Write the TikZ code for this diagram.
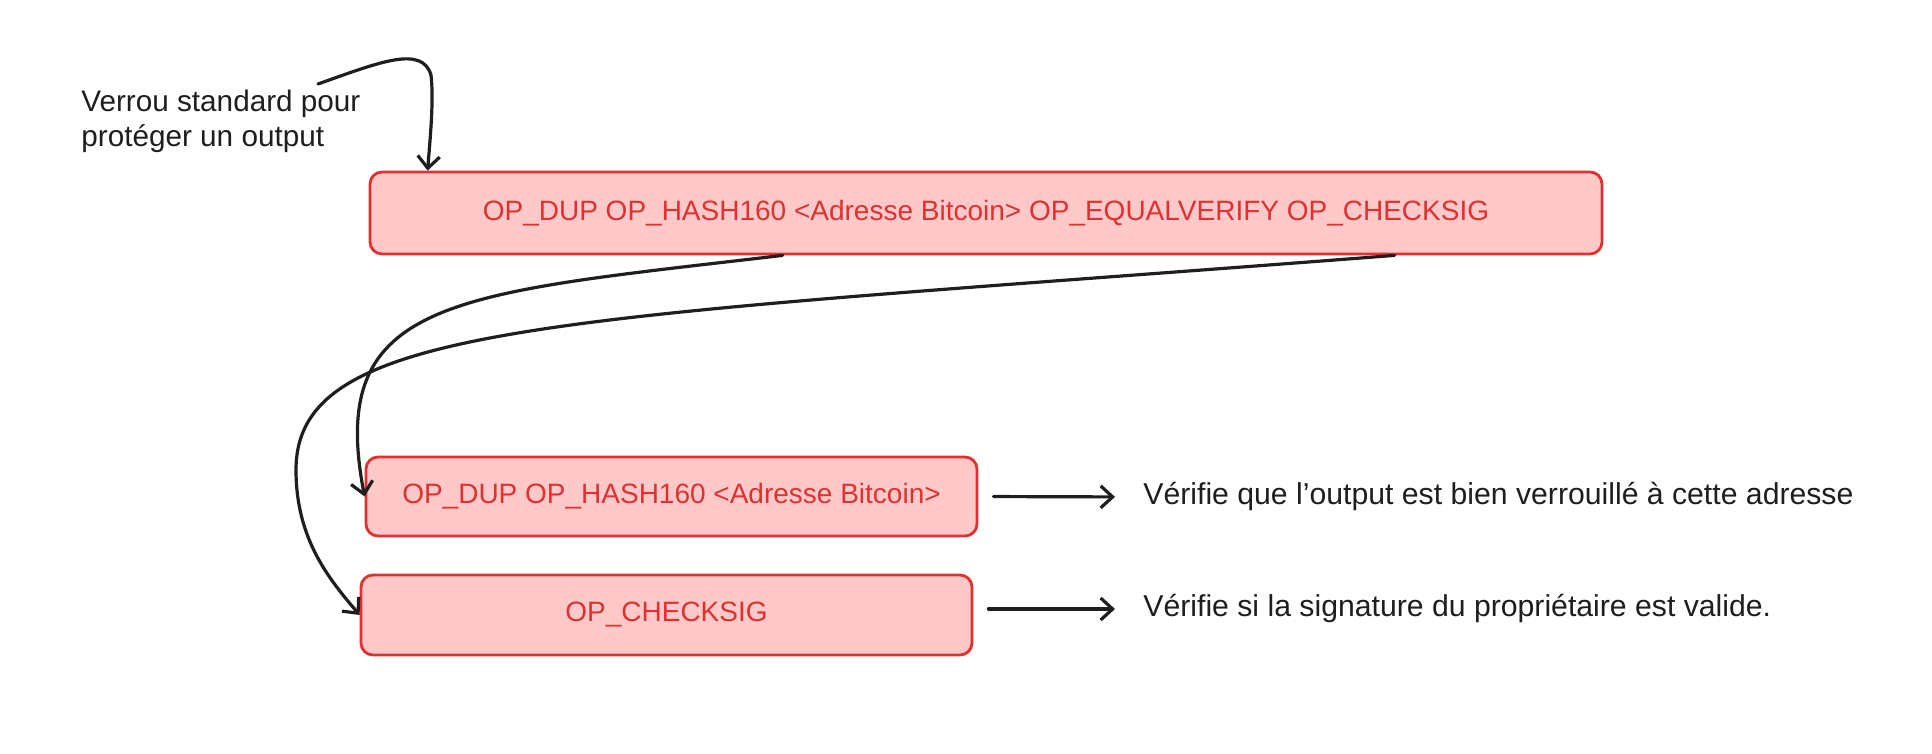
\documentclass[tikz,border=0pt]{standalone}
\usepackage{fontspec}
\setmainfont{Liberation Sans}
\usetikzlibrary{arrows.meta,calc}
\definecolor{boxfill}{HTML}{FFC9C9}
\definecolor{boxline}{HTML}{E03131}
\definecolor{ink}{HTML}{1E1E1E}
\begin{document}
\begin{tikzpicture}[x=0.5pt,y=-0.5pt,
  opbox/.style={draw=boxline, fill=boxfill, line width=1.4pt, rounded corners=6pt,
    text=boxline, font=\fontsize{14}{17}\selectfont, inner sep=0pt},
  note/.style={text=ink, font=\fontsize{15.1}{17.25}\selectfont, inner sep=0pt, align=left},
  link/.style={draw=ink, line width=1.6pt, line cap=round,
    -{Straight Barb[length=6pt,width=11pt,line width=1.6pt]}}]
\useasboundingbox (0,0) rectangle (1932,754);

\node[opbox, minimum width=616pt, minimum height=41pt] (top) at (986,213)
  {OP\_DUP OP\_HASH160 <Adresse Bitcoin> OP\_EQUALVERIFY OP\_CHECKSIG};
\node[opbox, minimum width=305.5pt, minimum height=39.5pt] (dup) at (671.5,496.5)
  {OP\_DUP OP\_HASH160 <Adresse Bitcoin>};
\node[opbox, minimum width=305.5pt, minimum height=40pt] (chk) at (666.5,615)
  {OP\_CHECKSIG};

\node[note, anchor=west] (d1) at (1143,497)
  {Vérifie que l’output est bien verrouillé à cette adresse};
\node[note, anchor=west] (d2) at (1143,609)
  {Vérifie si la signature du propriétaire est valide.};

\node[note, font=\fontsize{14.85}{17.25}\selectfont, anchor=north west] (ann) at (81,90)
  {Verrou standard pour\\protéger un output};
\coordinate (annstart) at (318,84);

\draw[link] (annstart) .. controls (380,62) and (422,45) .. (431,75)
  .. controls (434,100) and (430,140) .. ($(top.north west)+(59,0)$);

\draw[link] ($(top.south west)+(414,0)$) .. controls (454,294) and (326,297) .. (dup.west);
\draw[link] ($(top.south west)+(1026,0)$) .. controls (560,320) and (296,320) .. (296,470)
  .. controls (296,540) and (330,580) .. (chk.west);

\draw[link, shorten <=7.5pt, shorten >=14pt] (dup.east) -- (d1.west);
\draw[link, shorten <=7.5pt, shorten >=14pt] (chk.east |- d2.west) -- (d2.west);
\end{tikzpicture}
\end{document}
